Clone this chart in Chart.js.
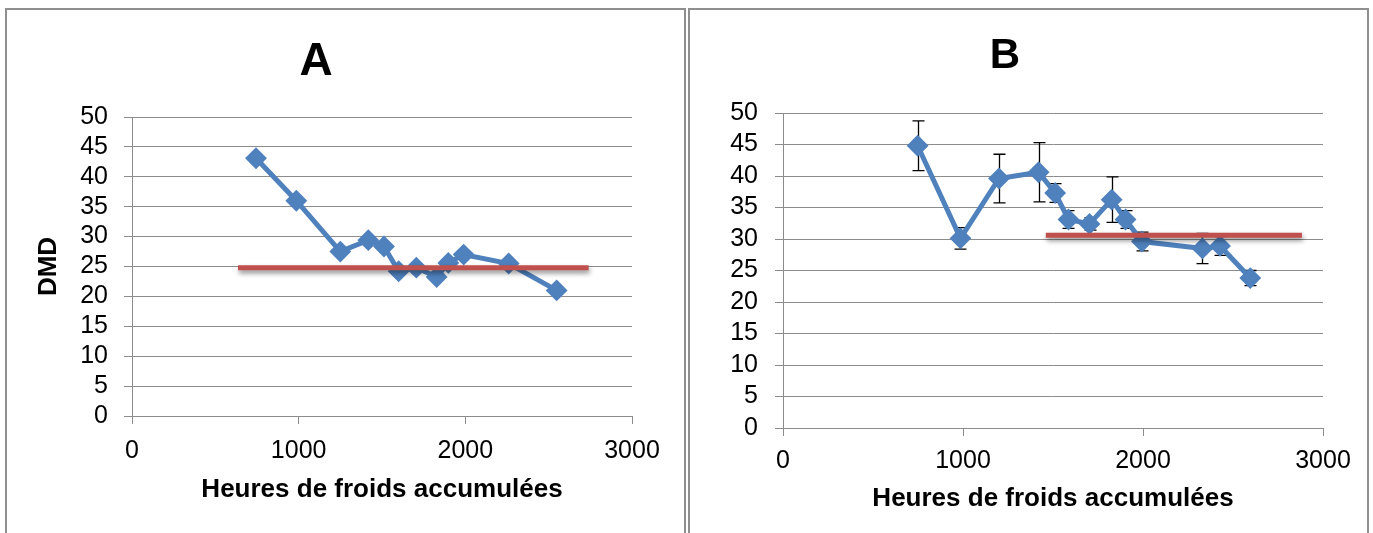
<!DOCTYPE html>
<html lang="fr">
<head>
<meta charset="utf-8">
<title>DMD et heures de froid accumulées</title>
<script src="https://cdn.jsdelivr.net/npm/chart.js@4.4.1/dist/chart.umd.min.js"></script>
<style>
  html, body { margin: 0; padding: 0; background: #fff; }
  body { width: 1373px; height: 533px; position: relative; overflow: hidden; }
  .frame { position: absolute; top: 8px; height: 560px; border: 2px solid #8f8f8f; border-bottom: none; }
  canvas { position: absolute; top: 0; }
  #chartA { left: 0; }
  #chartB { left: 687px; }
</style>
</head>
<body>
<div class="frame" style="left:5px;width:677px"></div>
<div class="frame" style="left:688px;width:677px"></div>
<canvas id="chartA" width="687" height="533"></canvas>
<canvas id="chartB" width="686" height="533"></canvas>
<script>
// ---- Panel A : DMD vs accumulated chill hours ----
const hoursA = [744, 986, 1250, 1418, 1512, 1600, 1706, 1828, 1898, 1990, 2260, 2548];
const dmdA   = [43.1, 36.0, 27.5, 29.4, 28.35, 24.2, 24.8, 23.25, 25.6, 27.0, 25.5, 21.0];
const thresholdA = 24.8;
const thresholdSpanA = [636, 2740];

// ---- Panel B : DMD vs accumulated chill hours, with error bars ----
const hoursB = [748, 986, 1200, 1420, 1512, 1586, 1703, 1826, 1903, 1994, 2330, 2428, 2596];
const dmdB   = [44.8, 30.1, 39.6, 40.6, 37.3, 33.1, 32.4, 36.25, 33.1, 29.6, 28.5, 28.9, 23.8];
const errB   = [3.95, 1.7, 3.85, 4.7, 1.5, 1.4, 1.0, 3.6, 1.4, 1.5, 2.4, 1.5, 1.2];
const thresholdB = 30.6;
const thresholdSpanB = [1460, 2883];

// Axis tick labels
const xTicks = [0, 1000, 2000, 3000];
const yTicks = [0, 5, 10, 15, 20, 25, 30, 35, 40, 45, 50];

const xTitle = 'Heures de froids accumulées';
const yTitle = 'DMD';

// Use the narrow sans face for titles when it is installed
function fontAvailable(name) {
  const ctx = document.createElement('canvas').getContext('2d');
  const probe = 'Heures de froids accumulées';
  ctx.font = '30px monospace';
  const base = ctx.measureText(probe).width;
  ctx.font = '30px "' + name + '", monospace';
  return ctx.measureText(probe).width !== base;
}
const NARROW = fontAvailable('Liberation Sans Narrow');
const SANS = '"Liberation Sans", Arial, sans-serif';
const TITLE_FAMILY = NARROW ? '"Liberation Sans Narrow", ' + SANS : SANS;
const AXIS_TITLE_SIZE = NARROW ? 30 : 26;
const AXIS_TITLE_LH = AXIS_TITLE_SIZE * 1.2;
const TICK_SIZE = 25;

const BLUE = '#4F81BD';
const RED = '#C0504D';
const GRID = '#8c8c8c';

Chart.defaults.font.family = SANS;
Chart.defaults.color = '#000';

// Drop shadow under datasets flagged with `shadow`
const shadowPlugin = {
  id: 'lineShadow',
  beforeDatasetDraw(chart, args) {
    const ds = chart.data.datasets[args.index];
    if (!ds.shadow) return;
    const ctx = chart.ctx;
    ctx.save();
    ctx.shadowColor = 'rgba(0,0,0,0.45)';
    ctx.shadowBlur = 5;
    ctx.shadowOffsetX = 1;
    ctx.shadowOffsetY = 3;
  },
  afterDatasetDraw(chart, args) {
    const ds = chart.data.datasets[args.index];
    if (ds.shadow) chart.ctx.restore();
  }
};

// Vertical error bars with caps, read from the dataset's `errors` array
const errorBarPlugin = {
  id: 'errorBars',
  beforeDatasetsDraw(chart) {
    const ctx = chart.ctx;
    const xs = chart.scales.x, ys = chart.scales.y;
    chart.data.datasets.forEach(ds => {
      if (!ds.errors) return;
      ctx.save();
      ctx.strokeStyle = '#000';
      ctx.lineWidth = 1.3;
      ds.data.forEach((pt, i) => {
        const e = ds.errors[i];
        const px = Math.round(xs.getPixelForValue(pt.x)) + 0.5;
        const top = ys.getPixelForValue(pt.y + e);
        const bot = ys.getPixelForValue(pt.y - e);
        ctx.beginPath();
        ctx.moveTo(px, top); ctx.lineTo(px, bot);
        ctx.moveTo(px - 6, top); ctx.lineTo(px + 6, top);
        ctx.moveTo(px - 6, bot); ctx.lineTo(px + 6, bot);
        ctx.stroke();
      });
      ctx.restore();
    });
  }
};

function points(xs, ys) { return xs.map((x, i) => ({ x, y: ys[i] })); }

function buildChart(id, cfg) {
  const lh = cfg.titleSize * 1.2;
  const titleTop = cfg.titleCenter - lh / 2;
  const tickLH = TICK_SIZE * 1.2;
  return new Chart(document.getElementById(id), {
    type: 'line',
    data: {
      datasets: [
        {
          data: [{ x: cfg.span[0], y: cfg.threshold }, { x: cfg.span[1], y: cfg.threshold }],
          borderColor: RED, borderWidth: 5, pointRadius: 0, borderCapStyle: 'butt',
          shadow: true
        },
        {
          data: points(cfg.hours, cfg.dmd),
          errors: cfg.errors || null,
          borderColor: BLUE, borderWidth: 5, tension: 0,
          pointStyle: 'rectRot', pointRadius: 9.5, pointBorderWidth: 2,
          pointBackgroundColor: BLUE, pointBorderColor: BLUE
        }
      ]
    },
    options: {
      responsive: false, animation: false, devicePixelRatio: 1,
      layout: { padding: { left: 0, right: cfg.padRight, top: 0, bottom: 0 } },
      plugins: {
        legend: { display: false },
        tooltip: { enabled: false },
        title: {
          display: true, text: cfg.title,
          font: { family: cfg.titleFamily, size: cfg.titleSize, weight: 'bold', lineHeight: 1.2 },
          color: '#000',
          padding: { top: titleTop, bottom: cfg.areaTop - titleTop - lh }
        }
      },
      scales: {
        x: {
          type: 'linear', min: 0, max: 3000,
          afterBuildTicks: s => { s.ticks = xTicks.map(v => ({ value: v })); },
          afterFit: s => { s.height = cfg.xAxisHeight; },
          ticks: { font: { size: TICK_SIZE }, padding: cfg.xTickCenter - 8 - tickLH / 2,
                   maxRotation: 0, autoSkip: false, callback: v => String(v) },
          grid: { drawOnChartArea: false, drawTicks: true, tickLength: 8, color: GRID, lineWidth: 1 },
          border: { display: true, color: GRID, width: 1 },
          title: {
            display: true, text: xTitle,
            font: { family: TITLE_FAMILY, size: AXIS_TITLE_SIZE, weight: 'bold', lineHeight: 1.2 },
            padding: { top: 0, bottom: cfg.xTitleBottom - AXIS_TITLE_LH / 2 }
          }
        },
        y: {
          type: 'linear', min: 0, max: 50,
          afterBuildTicks: s => { s.ticks = yTicks.map(v => ({ value: v })); },
          afterFit: s => { s.width = cfg.yAxisWidth; },
          ticks: { font: { size: TICK_SIZE }, padding: cfg.yTickPad, autoSkip: false,
                   callback: v => String(v) },
          grid: { drawOnChartArea: true, drawTicks: true, tickLength: 8, color: GRID, lineWidth: 1 },
          border: { display: true, color: GRID, width: 1 },
          title: {
            display: !!cfg.yTitle, text: cfg.yTitle || '',
            font: { family: TITLE_FAMILY, size: AXIS_TITLE_SIZE, weight: 'bold', lineHeight: 1.2 },
            padding: { top: cfg.yTitleCenter - AXIS_TITLE_LH / 2, bottom: 0 }
          }
        }
      }
    },
    plugins: [shadowPlugin, errorBarPlugin]
  });
}

buildChart('chartA', {
  title: 'A', titleFamily: SANS, titleSize: 46, titleCenter: 62, areaTop: 117,
  hours: hoursA, dmd: dmdA, threshold: thresholdA, span: thresholdSpanA,
  padRight: 55, yAxisWidth: 132, xAxisHeight: 117,
  xTickCenter: 35, yTickPad: 16, xTitleBottom: 43,
  yTitle: yTitle, yTitleCenter: 49
});

buildChart('chartB', {
  title: 'B', titleFamily: NARROW ? TITLE_FAMILY : SANS, titleSize: NARROW ? 47 : 42, titleCenter: 56, areaTop: 113,
  hours: hoursB, dmd: dmdB, errors: errB, threshold: thresholdB, span: thresholdSpanB,
  padRight: 50, yAxisWidth: 96, xAxisHeight: 105,
  xTickCenter: 33, yTickPad: 17, xTitleBottom: 34
});
</script>
</body>
</html>
